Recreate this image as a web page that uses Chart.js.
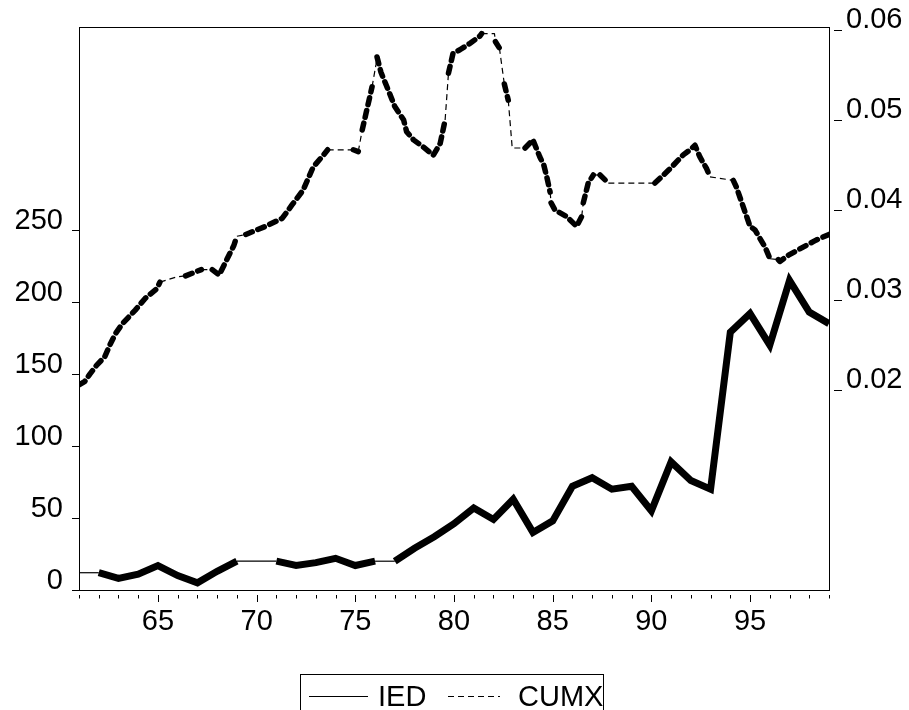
<!DOCTYPE html>
<html>
<head>
<meta charset="utf-8">
<title>IED and CUMX</title>
<script src="https://cdn.jsdelivr.net/npm/chart.js@4.4.1/dist/chart.umd.min.js"></script>
<style>
  html, body { margin: 0; padding: 0; background: #fff; }
</style>
</head>
<body>
<canvas id="chart" width="909" height="710"></canvas>
<script>
// IED, one value per year (left scale)
var iedYears = [61,62,63,64,65,66,67,68,69,70,71,72,73,74,75,76,77,78,79,80,
                81,82,83,84,85,86,87,88,89,90,91,92,93,94,95,96,97,98,99];
var iedValues = [12,12,8,11,17,10,5,13,20,20,20,17,19,22,17,20,20,29,37,46,
                 57,49,63,40,48,72,78,70,72,55,89,76,70,179,192,170,215,193,185];

// CUMX at its corners (right scale)
var cumxYears = [61.0,61.3,61.55,61.9,62.3,62.6,62.85,63.2,63.85,64.35,64.95,65.1,65.97,66.4,67.2,67.75,68.1,68.85,69.0,69.45,
                 70.45,71.3,71.8,72.35,72.87,73.38,73.6,74.9,75.15,75.35,75.6,75.85,76.05,76.1,76.3,76.6,77.0,77.45,77.6,77.95,
                 78.45,78.95,79.3,79.55,79.72,79.95,80.3,80.8,81.3,81.4,82.05,82.1,82.3,82.55,82.75,82.95,83.6,84.0,84.35,84.55,
                 84.7,84.87,84.92,85.12,85.7,86.21,86.47,86.55,86.8,87.06,87.4,87.82,90.18,90.9,91.6,91.96,92.21,92.46,92.8,92.97,
                 94.15,94.3,95.0,95.25,95.76,96.01,96.43,96.51,96.95,97.36,98.2,98.37,99.0];
var cumxValues = [0.0206,0.0210,0.0218,0.0228,0.0237,0.0252,0.0263,0.0274,0.0289,0.0302,0.0313,0.0320,0.0326,0.0327,0.0334,0.0334,0.0328,0.0361,0.0371,0.0373,
                  0.0382,0.0391,0.0406,0.0422,0.0448,0.0461,0.0467,0.0467,0.0465,0.0489,0.0513,0.0537,0.0562,0.0570,0.0553,0.0537,0.0515,0.0500,0.0487,0.0478,
                  0.0470,0.0461,0.0474,0.0500,0.0552,0.0574,0.0578,0.0585,0.0593,0.0596,0.0596,0.0587,0.0580,0.0540,0.0522,0.0469,0.0469,0.0478,0.0459,0.0450,
                  0.0437,0.0420,0.0408,0.0400,0.0393,0.0382,0.0393,0.0408,0.0430,0.0439,0.0439,0.0430,0.0430,0.0445,0.0461,0.0467,0.0472,0.0459,0.0446,0.0437,
                  0.0433,0.0426,0.0382,0.0378,0.0359,0.0346,0.0345,0.0343,0.0350,0.0355,0.0365,0.0367,0.0373];

var yearTicks = [65,70,75,80,85,90,95];
var iedTicks = [0,50,100,150,200,250];
var cumxTicks = [0.02,0.03,0.04,0.05,0.06];

var FONT = "'Liberation Sans', Arial, sans-serif";
Chart.defaults.font.family = FONT;
Chart.defaults.font.size = 29;
Chart.defaults.color = '#000';

function pairs(xs, ys) {
  return xs.map(function (x, i) { return {x: x, y: ys[i]}; });
}

// the original renders flat (and near vertical) pieces with a hairline
function cumxThin(ctx) {
  var dx = Math.abs(ctx.p1.x - ctx.p0.x), dy = Math.abs(ctx.p1.y - ctx.p0.y);
  return dy <= 0.35 * dx || dy >= 5 * dx;
}
function iedThin(ctx) {
  return Math.abs(ctx.p1.y - ctx.p0.y) < 0.5;
}

// keep the plot box where it is, labels may overhang
function fixWidth(w) {
  return function (s) { s.width = w; s.paddingTop = 0; s.paddingBottom = 0; };
}

var marks = {
  id: 'marks',
  afterDraw: function (chart) {
    var c = chart.ctx, a = chart.chartArea;
    var xs = chart.scales.x, ys = chart.scales.y1;
    c.save();
    c.strokeStyle = '#000';
    c.lineWidth = 1;
    c.strokeRect(a.left + 0.5, a.top + 0.5, a.right - a.left, a.bottom - a.top);

    // year ticks hang a little below the axis
    c.beginPath();
    iedYears.forEach(function (yv) {
      var px = Math.round(xs.getPixelForValue(yv)) + 0.5;
      var len = yearTicks.indexOf(yv) >= 0 ? 7 : 3.5;
      c.moveTo(px, a.bottom + 5);
      c.lineTo(px, a.bottom + 5 + len);
    });
    // right axis ticks are short dashes off the frame
    cumxTicks.forEach(function (v) {
      var py = Math.round(ys.getPixelForValue(v)) + 0.5;
      c.moveTo(a.right + 5, py);
      c.lineTo(a.right + 13, py);
    });
    c.stroke();

    // legend box at the bottom
    var ds = chart.data.datasets;
    var bx = 300, by = 674, ly = 696, base = 706;
    c.strokeRect(bx + 0.5, by + 0.5, 303, 60);
    c.font = '29px ' + FONT;
    c.fillStyle = '#000';
    c.textBaseline = 'alphabetic';
    c.textAlign = 'left';

    c.beginPath();
    c.moveTo(309, ly + 0.5);
    c.lineTo(368, ly + 0.5);
    c.stroke();
    c.fillText(ds[0].label, 378, base);

    c.setLineDash([6, 4]);
    c.beginPath();
    c.moveTo(448, ly + 0.5);
    c.lineTo(500, ly + 0.5);
    c.stroke();
    c.setLineDash([]);
    c.fillText(ds[1].label, 518, base);
    c.restore();
  }
};

new Chart(document.getElementById('chart'), {
  type: 'line',
  data: {
    datasets: [{
      label: 'IED',
      data: pairs(iedYears, iedValues),
      yAxisID: 'y',
      borderColor: '#000',
      borderWidth: 7,
      borderJoinStyle: 'miter',
      borderCapStyle: 'butt',
      pointRadius: 0,
      fill: false,
      segment: {
        borderWidth: function (ctx) { return iedThin(ctx) ? 1.2 : 7; }
      }
    }, {
      label: 'CUMX',
      data: pairs(cumxYears, cumxValues),
      yAxisID: 'y1',
      borderColor: '#000',
      borderWidth: 5,
      borderCapStyle: 'round',
      borderJoinStyle: 'round',
      pointRadius: 0,
      fill: false,
      segment: {
        borderWidth: function (ctx) { return cumxThin(ctx) ? 1.2 : 5.5; },
        borderDash: function (ctx) { return cumxThin(ctx) ? [6, 4] : [7, 6]; },
        borderCapStyle: function (ctx) { return cumxThin(ctx) ? 'butt' : 'round'; }
      }
    }]
  },
  options: {
    responsive: false,
    animation: false,
    devicePixelRatio: 1,
    layout: { padding: { top: 27, left: 0, right: 0, bottom: 0 } },
    plugins: { legend: { display: false }, tooltip: { enabled: false } },
    scales: {
      x: {
        type: 'linear',
        min: 61,
        max: 99,
        afterBuildTicks: function (s) { s.ticks = yearTicks.map(function (v) { return {value: v}; }); },
        afterFit: function (s) { s.height = 120; s.paddingLeft = 0; s.paddingRight = 0; },
        ticks: { padding: 15, maxRotation: 0, autoSkip: false },
        grid: { display: false, drawTicks: false },
        border: { display: false }
      },
      y: {
        position: 'left',
        min: 0,
        max: 391,
        afterBuildTicks: function (s) { s.ticks = iedTicks.map(function (v) { return {value: v}; }); },
        afterFit: fixWidth(79),
        ticks: { padding: 9, labelOffset: -9 },
        grid: { drawOnChartArea: false, drawTicks: true, tickLength: 7, color: '#000', lineWidth: 1 },
        border: { display: false }
      },
      y1: {
        position: 'right',
        min: -0.00217,
        max: 0.06033,
        afterBuildTicks: function (s) { s.ticks = cumxTicks.map(function (v) { return {value: v}; }); },
        afterFit: fixWidth(80),
        ticks: {
          padding: 17,
          labelOffset: -10,
          callback: function (v) { return v.toFixed(2); }
        },
        grid: { display: false, drawTicks: false },
        border: { display: false }
      }
    }
  },
  plugins: [marks]
});
</script>
</body>
</html>
